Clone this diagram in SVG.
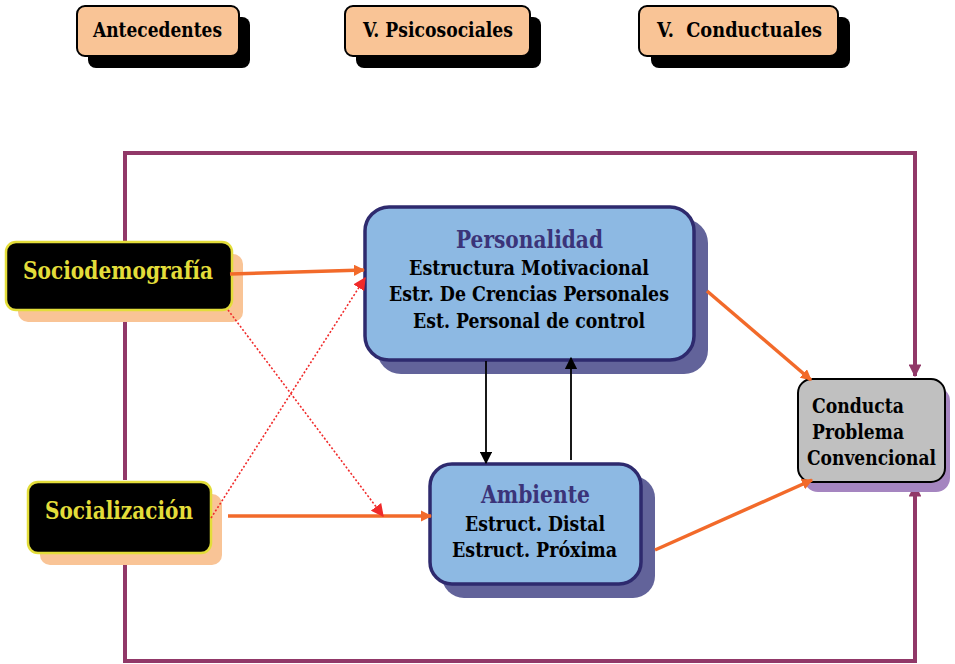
<svg xmlns="http://www.w3.org/2000/svg" width="955" height="664" viewBox="0 0 955 664">
  <defs>
    <style>
      text { font-family: "DejaVu Serif", serif; font-weight: 700; }
      .hdr { fill: #F9C496; stroke: #000; stroke-width: 2; }
      .hdr-sh { fill: #000; }
      .hdr-t { font-size: 20.5px; fill: #000; text-anchor: middle; }
      .src { fill: #000; stroke: #E3DD3A; stroke-width: 2.5; }
      .src-sh { fill: #F9C496; }
      .src-t { font-size: 24px; fill: #E3DD3A; text-anchor: middle; }
      .blue { fill: #8DB9E3; stroke: #2E2A6E; stroke-width: 3.5; }
      .blue-sh { fill: #62639A; }
      .title { font-size: 24px; fill: #3B3479; text-anchor: middle; }
      .body { font-size: 20.5px; fill: #000; text-anchor: middle; }
      .left { font-size: 20px; fill: #000; }
      .gray { fill: #C0C0C0; stroke: #000; stroke-width: 2; }
      .gray-sh { fill: #A585C0; }
      .frame { fill: none; stroke: #913868; stroke-width: 4; }
      .orange { fill: none; stroke: #F26A2A; stroke-width: 3.5; }
      .dotted { fill: none; stroke: #F02A2A; stroke-width: 1.6; stroke-dasharray: 2 2; }
      .black { fill: none; stroke: #000; stroke-width: 1.8; }
    </style>
    <marker id="mOrange" viewBox="0 0 10 10" refX="9" refY="5" markerWidth="3.2" markerHeight="3.2" orient="auto" markerUnits="strokeWidth">
      <path d="M0,0 L10,5 L0,10 z" fill="#F26A2A"/>
    </marker>
    <marker id="mRed" viewBox="0 0 10 10" refX="9" refY="5" markerWidth="8" markerHeight="8" orient="auto" markerUnits="strokeWidth">
      <path d="M0,0 L10,5 L0,10 z" fill="#F02A2A"/>
    </marker>
    <marker id="mBlack" viewBox="0 0 10 10" refX="9" refY="5" markerWidth="7" markerHeight="7" orient="auto" markerUnits="strokeWidth">
      <path d="M0,0 L10,5 L0,10 z" fill="#000"/>
    </marker>
    <marker id="mPurple" viewBox="0 0 10 10" refX="9" refY="5" markerWidth="3.2" markerHeight="3.2" orient="auto" markerUnits="strokeWidth">
      <path d="M0,0 L10,5 L0,10 z" fill="#913868"/>
    </marker>
  </defs>

  <!-- feedback frame -->
  <g id="connectors">
    <path class="frame" d="M125,480 V153 H915 V376" marker-end="url(#mPurple)"/>
    <path class="frame" d="M125,555 V661 H915 V485" marker-end="url(#mPurple)"/>
  </g>

  <!-- column headers -->
  <g id="antecedentes">
    <rect class="hdr-sh" x="88" y="17" width="162" height="51" rx="8"/>
    <rect class="hdr" x="77" y="6" width="162" height="50" rx="8"/>
    <text class="hdr-t" x="157.5" y="37" textLength="129" lengthAdjust="spacingAndGlyphs">Antecedentes</text>
  </g>
  <g id="psicosociales">
    <rect class="hdr-sh" x="356" y="17" width="185" height="51" rx="8"/>
    <rect class="hdr" x="345" y="6" width="185" height="50" rx="8"/>
    <text class="hdr-t" x="438" y="37" textLength="150" lengthAdjust="spacingAndGlyphs">V. Psicosociales</text>
  </g>
  <g id="conductuales">
    <rect class="hdr-sh" x="651" y="17" width="199" height="51" rx="8"/>
    <rect class="hdr" x="639" y="6" width="199" height="50" rx="8"/>
    <text class="hdr-t" x="739.5" y="37" xml:space="preserve" textLength="165" lengthAdjust="spacingAndGlyphs">V.  Conductuales</text>
  </g>

  <!-- source nodes -->
  <g id="sociodemografia">
    <rect class="src-sh" x="18" y="254" width="225" height="68" rx="10"/>
    <rect class="src" x="6" y="242" width="226" height="68" rx="10"/>
    <text class="src-t" x="118" y="279" textLength="190" lengthAdjust="spacingAndGlyphs">Sociodemografía</text>
  </g>
  <g id="socializacion">
    <rect class="src-sh" x="40" y="494" width="182" height="71" rx="10"/>
    <rect class="src" x="28" y="482" width="183" height="71" rx="10"/>
    <text class="src-t" x="119" y="519" textLength="148" lengthAdjust="spacingAndGlyphs">Socialización</text>
  </g>

  <!-- psychosocial nodes -->
  <g id="personalidad">
    <rect class="blue-sh" x="377" y="219" width="331" height="155" rx="24"/>
    <rect class="blue" x="365" y="207" width="329" height="153" rx="24"/>
    <text class="title" x="529.5" y="248" textLength="147" lengthAdjust="spacingAndGlyphs">Personalidad</text>
    <text class="body" x="529" y="275" textLength="240" lengthAdjust="spacingAndGlyphs">Estructura Motivacional</text>
    <text class="body" x="529" y="301" textLength="280" lengthAdjust="spacingAndGlyphs">Estr. De Crencias Personales</text>
    <text class="body" x="529" y="328" textLength="232" lengthAdjust="spacingAndGlyphs">Est. Personal de control</text>
  </g>
  <g id="ambiente">
    <rect class="blue-sh" x="442" y="476" width="213" height="122" rx="22"/>
    <rect class="blue" x="430" y="464" width="211" height="120" rx="22"/>
    <text class="title" x="535.5" y="503" textLength="109" lengthAdjust="spacingAndGlyphs">Ambiente</text>
    <text class="body" x="535" y="531" textLength="140" lengthAdjust="spacingAndGlyphs">Estruct. Distal</text>
    <text class="body" x="534.5" y="557" textLength="165" lengthAdjust="spacingAndGlyphs">Estruct. Próxima</text>
  </g>

  <!-- outcome node -->
  <g id="conducta">
    <rect class="gray-sh" x="804" y="387" width="146" height="105" rx="14"/>
    <rect class="gray" x="798" y="379" width="147" height="103" rx="14"/>
    <text class="left" x="812" y="413" textLength="92" lengthAdjust="spacingAndGlyphs">Conducta</text>
    <text class="left" x="812" y="439" textLength="92" lengthAdjust="spacingAndGlyphs">Problema</text>
    <text class="left" x="807" y="465" textLength="129" lengthAdjust="spacingAndGlyphs">Convencional</text>
  </g>

  <!-- influence arrows -->
  <g id="links">
    <path class="orange" d="M230,274 L364,270" marker-end="url(#mOrange)"/>
    <path class="orange" d="M228,516 L431,516" marker-end="url(#mOrange)"/>
    <path class="orange" d="M707,291 L811,380" marker-end="url(#mOrange)"/>
    <path class="orange" d="M655,550 L812,480" marker-end="url(#mOrange)"/>
    <path class="dotted" d="M228,310 L383,516" marker-end="url(#mRed)"/>
    <path class="dotted" d="M211,518 L365,278" marker-end="url(#mRed)"/>
    <path class="black" d="M486,361 L486,463" marker-end="url(#mBlack)"/>
    <path class="black" d="M571,460 L571,358" marker-end="url(#mBlack)"/>
  </g>
</svg>
